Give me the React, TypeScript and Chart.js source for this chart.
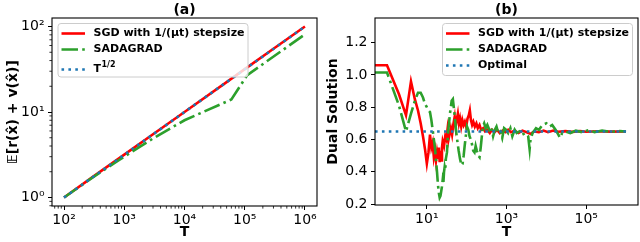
import React, { useEffect, useRef } from 'react';
import { Chart, registerables } from 'chart.js';

Chart.register(...registerables);

const FONT = "'DejaVu Sans', 'Noto Sans', sans-serif";
const RED = '#ff0000';
const GREEN = '#2ca02c';
const BLUE = '#1f77b4';
const LW = 2.6;
const DASHDOT = [16.5, 4.2, 2.6, 4.2];
const DOTTED = [2.6, 4.3];

// ---------------- Panel (a) ----------------
const sgdSampleSizes = [100, 300, 1000, 3000, 10000, 50000, 100000, 300000, 1000000];
const sgdObjective = [1.0, 1.74, 3.17, 5.5, 10.0, 22.4, 31.7, 54.9, 100];
const sadagradSampleSizes = [100, 300, 800, 3000, 10000, 60000, 110000, 1000000];
const sadagradObjective = [1.0, 1.72, 2.72, 4.9, 8.0, 14.0, 27, 81];
const sqrtSampleSizes = [100, 1000, 10000, 100000, 1000000];
const sqrtObjective = [1.0, 3.16, 10.0, 31.6, 100];
const sampleTickValues = [100, 1000, 10000, 100000, 1000000];
const sampleTickLabels = ['10²', '10³', '10⁴', '10⁵', '10⁶'];
const objectiveTickValues = [1, 10, 100];
const objectiveTickLabels = ['10⁰', '10¹', '10²'];

// ---------------- Panel (b) ----------------
const sgdIterations = [
  0.5, 1, 2, 3, 4, 5, 6, 7, 8, 9, 10,
  11, 12, 13, 14, 15, 16, 17, 18, 19, 20, 21, 22, 23, 24, 25,
  27, 29, 31, 33, 35, 37,
  40, 43, 46, 50, 53, 56, 60, 64, 68, 73, 78, 84, 90, 97,
  105, 113, 120, 128, 137, 147, 160, 175, 190, 210, 230, 260, 290,
  330, 380, 430, 500, 580, 680, 800, 950,
  1100, 1300, 1600, 2000, 2500, 3200, 4000, 5000, 6500, 8500,
  11000, 15000, 20000, 30000, 45000, 70000, 100000, 200000, 400000, 1000000,
];
const sgdDual = [
  1.06, 1.06, 0.88, 0.75, 0.96, 0.85, 0.78, 0.70, 0.62, 0.54, 0.45,
  0.52, 0.63, 0.55, 0.58, 0.49, 0.53, 0.47, 0.52, 0.48, 0.55, 0.46, 0.53, 0.47, 0.55, 0.59,
  0.56, 0.62, 0.60, 0.66, 0.60, 0.63,
  0.67, 0.63, 0.69, 0.74, 0.68, 0.72, 0.76, 0.70, 0.73, 0.68, 0.72, 0.69, 0.71, 0.68,
  0.73, 0.75, 0.78, 0.72, 0.69, 0.71, 0.68, 0.70, 0.67, 0.69, 0.66, 0.67, 0.65,
  0.66, 0.64, 0.66, 0.645, 0.66, 0.64, 0.655, 0.645,
  0.66, 0.645, 0.655, 0.64, 0.655, 0.645, 0.635, 0.65, 0.645, 0.655,
  0.645, 0.655, 0.648, 0.652, 0.647, 0.652, 0.648, 0.651, 0.649, 0.65,
];
const sadagradIterations = [
  0.5, 1, 2, 3, 4, 5, 6, 7, 8, 9, 10, 11, 12, 13, 14, 15, 16, 17, 18, 19, 20,
  21, 22, 23, 24, 25, 26, 27, 28, 29, 30, 31, 32, 33, 34,
  36, 38, 40, 42, 45, 48, 51, 55, 59, 63, 68, 74, 79, 84, 89, 95,
  102, 110, 118, 127, 136, 146, 157, 168, 180, 195, 210, 225, 240, 255, 275, 300,
  330, 370, 410, 460, 510, 560, 620, 700, 780, 870, 980,
  1100, 1250, 1400, 1600, 1800, 2100, 2500, 3000, 3500, 3800, 4000, 4500, 5500, 6500, 8000, 10000,
  12000, 14000, 17000, 20000, 22000, 25000, 30000, 40000, 55000, 80000, 120000, 160000, 250000, 400000, 700000, 1000000,
];
const sadagradDual = [
  1.015, 1.015, 0.81, 0.65, 0.76, 0.84, 0.89, 0.89, 0.86, 0.82, 0.80, 0.78, 0.77, 0.72, 0.66, 0.60, 0.55, 0.47, 0.40, 0.32, 0.27,
  0.24, 0.25, 0.28, 0.31, 0.35, 0.33, 0.40, 0.43, 0.41, 0.48, 0.50, 0.52, 0.58, 0.64,
  0.70, 0.76, 0.80, 0.84, 0.85, 0.79, 0.72, 0.64, 0.58, 0.53, 0.48, 0.44, 0.45, 0.50, 0.56, 0.62,
  0.68, 0.66, 0.62, 0.60, 0.57, 0.53, 0.52, 0.56, 0.53, 0.50, 0.49, 0.55, 0.62, 0.68, 0.70, 0.67,
  0.69, 0.66, 0.68, 0.62, 0.66, 0.68, 0.64, 0.65, 0.61, 0.67, 0.66,
  0.64, 0.67, 0.62, 0.66, 0.64, 0.65, 0.63, 0.64, 0.62, 0.54, 0.60, 0.64, 0.67, 0.66, 0.69, 0.70,
  0.68, 0.69, 0.66, 0.63, 0.61, 0.64, 0.65, 0.64, 0.655, 0.645, 0.66, 0.645, 0.655, 0.648, 0.652, 0.65,
];
const optimalIterations = [0.5, 1000000];
const optimalDual = [0.65, 0.65];
const iterationTickValues = [10, 1000, 100000];
const iterationTickLabels = ['10¹', '10³', '10⁵'];
const dualTickValues = [0.2, 0.4, 0.6, 0.8, 1.0, 1.2];
const dualTickLabels = ['0.2', '0.4', '0.6', '0.8', '1.0', '1.2'];

type LegendEntry = { label: string; sup?: string; color: string; dash: number[] };

const pts = (xs: number[], ys: number[]) => xs.map((x, i) => ({ x, y: ys[i] }));

function minorLog(lo: number, hi: number) {
  const out: number[] = [];
  for (let e = Math.floor(Math.log10(lo)); e <= Math.ceil(Math.log10(hi)); e++) {
    for (let m = 2; m <= 9; m++) {
      const v = m * Math.pow(10, e);
      if (v > lo && v < hi) out.push(v);
    }
  }
  return out;
}

function decorPlugin(o: {
  title: string;
  legend: LegendEntry[];
  anchor: 'left' | 'right';
  rows: number[];
  boxH: number;
  minorX: number[];
  minorY: number[];
}) {
  return {
    id: 'decor',
    afterDraw(chart: any) {
      const ctx: CanvasRenderingContext2D = chart.ctx;
      const a = chart.chartArea;
      const xs = chart.scales.x;
      const ys = chart.scales.y;
      ctx.save();
      // minor ticks
      ctx.strokeStyle = '#000';
      ctx.lineWidth = 0.8;
      ctx.beginPath();
      for (const v of o.minorX) {
        const px = xs.getPixelForValue(v);
        ctx.moveTo(px, a.bottom);
        ctx.lineTo(px, a.bottom + 2.6);
      }
      for (const v of o.minorY) {
        const py = ys.getPixelForValue(v);
        ctx.moveTo(a.left - 2.6, py);
        ctx.lineTo(a.left, py);
      }
      ctx.stroke();
      // frame
      ctx.lineWidth = 1.1;
      ctx.strokeRect(a.left, a.top, a.right - a.left, a.bottom - a.top);
      // title
      ctx.fillStyle = '#000';
      ctx.font = `bold 14px ${FONT}`;
      ctx.textAlign = 'center';
      ctx.textBaseline = 'middle';
      ctx.fillText(o.title, (a.left + a.right) / 2, 10);
      // legend
      const w = 190;
      const h = o.boxH;
      const bx = o.anchor === 'left' ? a.left + 6 : a.right - 5.5 - w;
      const by = a.top + 5.5;
      const r = 3;
      ctx.beginPath();
      ctx.moveTo(bx + r, by);
      ctx.lineTo(bx + w - r, by);
      ctx.quadraticCurveTo(bx + w, by, bx + w, by + r);
      ctx.lineTo(bx + w, by + h - r);
      ctx.quadraticCurveTo(bx + w, by + h, bx + w - r, by + h);
      ctx.lineTo(bx + r, by + h);
      ctx.quadraticCurveTo(bx, by + h, bx, by + h - r);
      ctx.lineTo(bx, by + r);
      ctx.quadraticCurveTo(bx, by, bx + r, by);
      ctx.closePath();
      ctx.fillStyle = 'rgba(255,255,255,0.8)';
      ctx.fill();
      ctx.strokeStyle = '#cccccc';
      ctx.lineWidth = 1;
      ctx.stroke();
      o.legend.forEach((e, i) => {
        const y = by + o.rows[i];
        ctx.beginPath();
        ctx.setLineDash(e.dash);
        ctx.lineCap = 'butt';
        ctx.strokeStyle = e.color;
        ctx.lineWidth = LW;
        ctx.moveTo(bx + 3.5, y);
        ctx.lineTo(bx + 27, y);
        ctx.stroke();
        ctx.setLineDash([]);
        ctx.fillStyle = '#000';
        ctx.font = `bold 11px ${FONT}`;
        ctx.textAlign = 'left';
        ctx.textBaseline = 'middle';
        ctx.fillText(e.label, bx + 35.5, y);
        if (e.sup) {
          const tw = ctx.measureText(e.label).width;
          ctx.font = `bold 8px ${FONT}`;
          ctx.fillText(e.sup, bx + 35.5 + tw + 0.5, y - 5);
        }
      });
      ctx.restore();
    },
  };
}

const tickFont = { family: FONT, size: 14 };
const titleFont = { family: FONT, size: 14, weight: 'bold' as const };
const gridOpts = { display: true, drawOnChartArea: false, drawTicks: true, tickLength: 4, tickColor: '#000', tickWidth: 1 };

function lineDs(label: string, data: any[], color: string, dash: number[], order: number) {
  return {
    label,
    data,
    borderColor: color,
    backgroundColor: color,
    borderWidth: LW,
    borderDash: dash,
    borderCapStyle: 'butt' as const,
    pointRadius: 0,
    tension: 0,
    fill: false,
    order,
  };
}

function configA(): any {
  const xMin = Math.pow(10, 1.8), xMax = Math.pow(10, 6.2);
  const yMin = Math.pow(10, -0.1), yMax = Math.pow(10, 2.1);
  return {
    type: 'line',
    data: {
      datasets: [
        lineDs('SGD with 1/(μt) stepsize', pts(sgdSampleSizes, sgdObjective), RED, [], 3),
        lineDs('SADAGRAD', pts(sadagradSampleSizes, sadagradObjective), GREEN, DASHDOT, 2),
        lineDs('T^1/2', pts(sqrtSampleSizes, sqrtObjective), BLUE, DOTTED, 1),
      ],
    },
    options: {
      responsive: false,
      animation: false,
      events: [],
      layout: { padding: { top: 18, right: 3, bottom: 0, left: 0 } },
      plugins: { legend: { display: false }, tooltip: { enabled: false }, title: { display: false } },
      scales: {
        x: {
          type: 'logarithmic', min: xMin, max: xMax, bounds: 'data',
          afterBuildTicks: (s: any) => { s.ticks = sampleTickValues.map((v) => ({ value: v })); },
          afterFit: (s: any) => { s.height = 36; s.paddingLeft = 0; s.paddingRight = 0; },
          ticks: { callback: (_v: any, i: number) => sampleTickLabels[i], font: tickFont, color: '#000', padding: 2, maxRotation: 0, autoSkip: false },
          grid: gridOpts,
          border: { display: false },
          title: { display: true, text: 'T', font: titleFont, color: '#000', padding: { top: 0, bottom: 1.5 } },
        },
        y: {
          type: 'logarithmic', min: yMin, max: yMax, bounds: 'data',
          afterBuildTicks: (s: any) => { s.ticks = objectiveTickValues.map((v) => ({ value: v })); },
          afterFit: (s: any) => { s.width = 52; s.paddingTop = 0; s.paddingBottom = 0; },
          ticks: { callback: (_v: any, i: number) => objectiveTickLabels[i], font: tickFont, color: '#000', padding: 3.5, autoSkip: false },
          grid: gridOpts,
          border: { display: false },
          title: { display: true, text: '𝔼[r(x̂) + v(x̂)]', font: titleFont, color: '#000', padding: { top: 4.6, bottom: 0 } },
        },
      },
    },
    plugins: [
      decorPlugin({
        title: '(a)',
        legend: [
          { label: 'SGD with 1/(μt) stepsize', color: RED, dash: [] },
          { label: 'SADAGRAD', color: GREEN, dash: DASHDOT },
          { label: 'T', sup: '1/2', color: BLUE, dash: DOTTED },
        ],
        anchor: 'left',
        rows: [10, 26, 46],
        boxH: 53.5,
        minorX: minorLog(xMin, xMax),
        minorY: minorLog(yMin, yMax),
      }),
    ],
  };
}

function configB(): any {
  const xMin = 0.5, xMax = Math.pow(10, 6.3);
  const yMin = 0.194, yMax = 1.353;
  return {
    type: 'line',
    data: {
      datasets: [
        lineDs('SGD with 1/(μt) stepsize', pts(sgdIterations, sgdDual), RED, [], 3),
        lineDs('SADAGRAD', pts(sadagradIterations, sadagradDual), GREEN, DASHDOT, 2),
        lineDs('Optimal', pts(optimalIterations, optimalDual), BLUE, DOTTED, 1),
      ],
    },
    options: {
      responsive: false,
      animation: false,
      events: [],
      layout: { padding: { top: 18, right: 2, bottom: 0, left: 0 } },
      plugins: { legend: { display: false }, tooltip: { enabled: false }, title: { display: false } },
      scales: {
        x: {
          type: 'logarithmic', min: xMin, max: xMax, bounds: 'data',
          afterBuildTicks: (s: any) => { s.ticks = iterationTickValues.map((v) => ({ value: v })); },
          afterFit: (s: any) => { s.height = 37; s.paddingLeft = 0; s.paddingRight = 0; },
          ticks: { callback: (_v: any, i: number) => iterationTickLabels[i], font: tickFont, color: '#000', padding: 2, maxRotation: 0, autoSkip: false },
          grid: gridOpts,
          border: { display: false },
          title: { display: true, text: 'T', font: titleFont, color: '#000', padding: { top: 0, bottom: 1.5 } },
        },
        y: {
          type: 'linear', min: yMin, max: yMax, bounds: 'data',
          afterBuildTicks: (s: any) => { s.ticks = dualTickValues.map((v) => ({ value: v })); },
          afterFit: (s: any) => { s.width = 55; s.paddingTop = 0; s.paddingBottom = 0; },
          ticks: { callback: (_v: any, i: number) => dualTickLabels[i], font: tickFont, color: '#000', padding: 3.5, autoSkip: false },
          grid: gridOpts,
          border: { display: false },
          title: { display: true, text: 'Dual Solution', font: titleFont, color: '#000', padding: { top: 5, bottom: 0 } },
        },
      },
    },
    plugins: [
      decorPlugin({
        title: '(b)',
        legend: [
          { label: 'SGD with 1/(μt) stepsize', color: RED, dash: [] },
          { label: 'SADAGRAD', color: GREEN, dash: DASHDOT },
          { label: 'Optimal', color: BLUE, dash: DOTTED },
        ],
        anchor: 'right',
        rows: [10, 26, 42],
        boxH: 52,
        minorX: [],
        minorY: [],
      }),
    ],
  };
}

function Panel({ left, make }: { left: number; make: () => any }) {
  const ref = useRef<HTMLCanvasElement>(null);
  useEffect(() => {
    const chart = new Chart(ref.current as HTMLCanvasElement, make());
    return () => chart.destroy();
  }, []);
  return (
    <canvas
      ref={ref}
      width={320}
      height={242}
      style={{ position: 'absolute', left, top: 0, width: 320, height: 242 }}
    />
  );
}

export default function App() {
  return (
    <div style={{ position: 'absolute', left: 0, top: 0, width: 640, height: 242, background: '#fff', overflow: 'hidden' }}>
      <Panel left={0} make={configA} />
      <Panel left={320} make={configB} />
    </div>
  );
}
